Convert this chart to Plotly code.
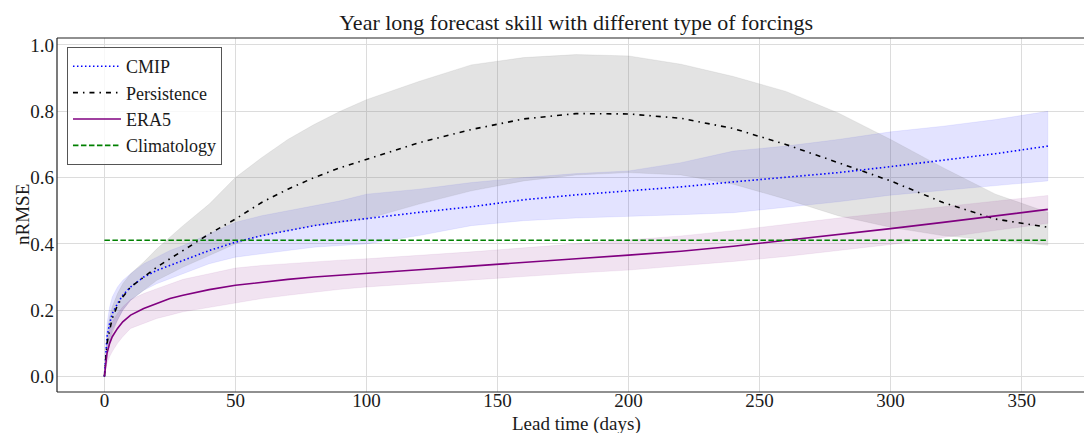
import plotly.graph_objects as go

# ---------------- data ----------------
days = [0, 1, 2, 3, 5, 7, 10, 15, 20, 25, 30, 40, 50, 60, 70, 80, 90, 100,
        120, 140, 160, 180, 200, 220, 240, 260, 280, 300, 320, 340, 360]

cmip_mean = [0.0, 0.12, 0.16, 0.19, 0.22, 0.245, 0.27, 0.30, 0.32, 0.335, 0.35, 0.38,
             0.405, 0.425, 0.44, 0.455, 0.467, 0.477, 0.495, 0.512, 0.533, 0.548,
             0.56, 0.572, 0.587, 0.601, 0.615, 0.633, 0.652, 0.672, 0.695]
cmip_upper = [0.0, 0.16, 0.21, 0.24, 0.27, 0.29, 0.31, 0.34, 0.36, 0.38, 0.395, 0.43,
              0.465, 0.485, 0.50, 0.515, 0.53, 0.55, 0.565, 0.585, 0.60, 0.612,
              0.62, 0.645, 0.68, 0.695, 0.715, 0.738, 0.755, 0.775, 0.80]
cmip_lower = [0.0, 0.08, 0.11, 0.14, 0.17, 0.20, 0.23, 0.26, 0.28, 0.295, 0.31, 0.34,
              0.36, 0.37, 0.38, 0.39, 0.395, 0.40, 0.425, 0.455, 0.47, 0.478,
              0.483, 0.488, 0.494, 0.51, 0.527, 0.547, 0.562, 0.575, 0.59]

pers_mean = [0.0, 0.10, 0.14, 0.175, 0.215, 0.24, 0.27, 0.30, 0.33, 0.355, 0.38, 0.43,
             0.475, 0.525, 0.565, 0.60, 0.63, 0.655, 0.705, 0.745, 0.777, 0.793,
             0.792, 0.779, 0.748, 0.70, 0.645, 0.59, 0.525, 0.475, 0.45]
pers_upper = [0.0, 0.13, 0.18, 0.21, 0.25, 0.28, 0.31, 0.345, 0.385, 0.42, 0.455, 0.52,
              0.60, 0.66, 0.715, 0.76, 0.80, 0.835, 0.89, 0.94, 0.962, 0.971,
              0.967, 0.942, 0.905, 0.86, 0.795, 0.715, 0.63, 0.55, 0.495]
pers_lower = [0.0, 0.07, 0.10, 0.13, 0.17, 0.20, 0.23, 0.26, 0.29, 0.31, 0.33, 0.365,
              0.40, 0.425, 0.44, 0.455, 0.465, 0.475, 0.52, 0.56, 0.59, 0.608,
              0.615, 0.608, 0.58, 0.535, 0.485, 0.45, 0.425, 0.41, 0.396]

era5_mean = [0.0, 0.07, 0.10, 0.12, 0.145, 0.165, 0.185, 0.205, 0.22, 0.235, 0.245, 0.262,
             0.275, 0.285, 0.293, 0.30, 0.306, 0.311, 0.322, 0.333, 0.345, 0.355,
             0.366, 0.378, 0.393, 0.41, 0.428, 0.446, 0.465, 0.485, 0.504]
era5_upper = [0.0, 0.10, 0.14, 0.165, 0.19, 0.21, 0.232, 0.25, 0.265, 0.28, 0.293, 0.31,
              0.327, 0.335, 0.341, 0.346, 0.351, 0.355, 0.365, 0.376, 0.388, 0.40,
              0.411, 0.424, 0.44, 0.46, 0.478, 0.495, 0.512, 0.53, 0.546]
era5_lower = [0.0, 0.04, 0.06, 0.075, 0.10, 0.12, 0.145, 0.16, 0.175, 0.185, 0.195, 0.21,
              0.222, 0.235, 0.245, 0.255, 0.263, 0.27, 0.281, 0.292, 0.302, 0.312,
              0.321, 0.333, 0.347, 0.362, 0.38, 0.398, 0.418, 0.44, 0.462]

climatology = 0.411

title_text = "Year long forecast skill with different type of forcings"
x_label = "Lead time (days)"
y_label = "nRMSE"
x_ticks = [0, 50, 100, 150, 200, 250, 300, 350]
y_ticks = [0.0, 0.2, 0.4, 0.6, 0.8, 1.0]

FONT = "Liberation Serif"
TXT = "#1a1a1a"
SPINE = "#222222"

PW, PH = 1027, 354  # plot area size in px (x 57..1084, y 38..392)

fig = go.Figure()


def band(upper, lower, color):
    fig.add_trace(go.Scatter(
        x=days + days[::-1], y=upper + lower[::-1],
        fill="toself", fillcolor=color, mode="lines",
        line=dict(width=0.6, color=color), hoverinfo="skip", showlegend=False))


band(cmip_upper, cmip_lower, "rgba(0,0,255,0.11)")
band(pers_upper, pers_lower, "rgba(128,128,128,0.22)")
band(era5_upper, era5_lower, "rgba(128,0,128,0.11)")

fig.add_trace(go.Scatter(x=days, y=cmip_mean, mode="lines", name="CMIP",
                         line=dict(color="blue", width=1.6, dash="1.5px,2.5px")))
fig.add_trace(go.Scatter(x=days, y=pers_mean, mode="lines", name="Persistence",
                         line=dict(color="black", width=1.6, dash="5px,5px,1.5px,5px")))
fig.add_trace(go.Scatter(x=days, y=era5_mean, mode="lines", name="ERA5",
                         line=dict(color="purple", width=1.6)))
fig.add_trace(go.Scatter(x=[days[0], days[-1]], y=[climatology, climatology],
                         mode="lines", name="Climatology",
                         line=dict(color="green", width=1.6, dash="5.5px,2.5px")))

spine = dict(type="line", xref="paper", yref="paper", layer="above",
             line=dict(color=SPINE, width=1.2))

fig.update_layout(
    width=1084, height=433,
    margin=dict(l=57, r=0, t=38, b=41, autoexpand=False),
    paper_bgcolor="white", plot_bgcolor="white",
    font=dict(family=FONT, size=19, color=TXT),
    title=dict(text=title_text, x=0.5055, xref="paper", xanchor="center",
               y=1 - 22 / 433, yref="container", yanchor="middle",
               font=dict(family=FONT, size=22, color=TXT)),
    legend=dict(x=0.0097, y=0.9746, xanchor="left", yanchor="top",
                bgcolor="rgba(255,255,255,0.8)", bordercolor="#555555", borderwidth=1,
                font=dict(family=FONT, size=18, color=TXT),
                itemwidth=48, tracegroupgap=0),
    xaxis=dict(range=[-18.09, 373.8], tickvals=x_ticks, automargin=False,
               anchor="free", position=5 / PH,
               showgrid=True, gridcolor="#dcdcdc", gridwidth=1,
               showline=False, zeroline=False, ticks=""),
    yaxis=dict(range=[-0.0468, 1.0211], tickvals=y_ticks, tickformat=".1f",
               ticksuffix="\u2009", ticklabelposition="outside", ticklabelstandoff=3,
               automargin=False, anchor="free", position=0,
               showgrid=True, gridcolor="#dcdcdc", gridwidth=1,
               showline=False, zeroline=False, ticks=""),
    shapes=[
        dict(spine, x0=0, x1=0, y0=0, y1=1),
        dict(spine, x0=0, x1=1, y0=0, y1=0),
        dict(spine, x0=0, x1=1, y0=1, y1=1),
    ],
    annotations=[
        dict(text=x_label, xref="paper", yref="paper", x=(576 - 57) / PW,
             y=(392 - 424) / PH, xanchor="center", yanchor="middle",
             showarrow=False, font=dict(family=FONT, size=19, color=TXT)),
        dict(text=y_label, xref="paper", yref="paper", x=(22 - 57) / PW,
             y=(392 - 215) / PH, xanchor="center", yanchor="middle", textangle=-90,
             showarrow=False, font=dict(family=FONT, size=19, color=TXT)),
    ],
)

fig.write_html("out.html")
